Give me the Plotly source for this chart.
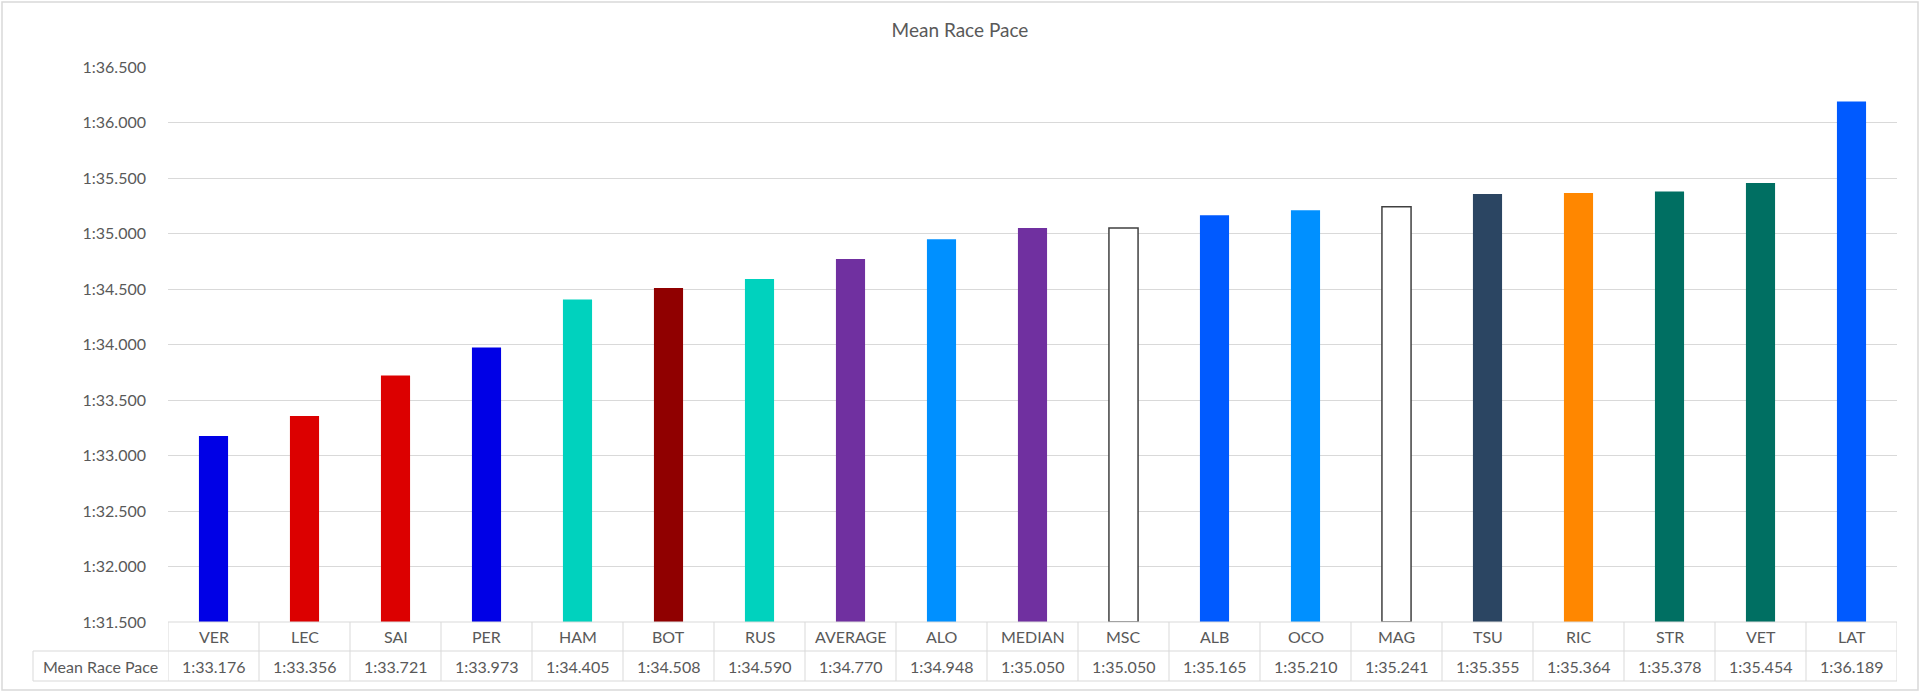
"""
Mean race pace bar chart with an Excel-style data table underneath
"""
import plotly.graph_objects as go

drivers = ['VER', 'LEC', 'SAI', 'PER', 'HAM', 'BOT', 'RUS', 'AVERAGE', 'ALO', 'MEDIAN',
           'MSC', 'ALB', 'OCO', 'MAG', 'TSU', 'RIC', 'STR', 'VET', 'LAT']
pace_labels = ['1:33.176', '1:33.356', '1:33.721', '1:33.973', '1:34.405', '1:34.508',
               '1:34.590', '1:34.770', '1:34.948', '1:35.050', '1:35.050', '1:35.165',
               '1:35.210', '1:35.241', '1:35.355', '1:35.364', '1:35.378', '1:35.454',
               '1:36.189']
bar_colors = ['#0000E6', '#DC0000', '#DC0000', '#0000E6', '#00D2BE', '#900000', '#00D2BE',
              '#7030A0', '#0090FF', '#7030A0', '#FFFFFF', '#005AFF', '#0090FF', '#FFFFFF',
              '#2B4562', '#FF8700', '#006F62', '#006F62', '#005AFF']
outlined = ['MSC', 'MAG']
tick_vals = [91.5, 92.0, 92.5, 93.0, 93.5, 94.0, 94.5, 95.0, 95.5, 96.0, 96.5]
tick_text = ['1:31.500', '1:32.000', '1:32.500', '1:33.000', '1:33.500', '1:34.000',
             '1:34.500', '1:35.000', '1:35.500', '1:36.000', '1:36.500']
AXIS_FLOOR = 91.5


def to_seconds(label):
    m, s = label.split(':')
    return int(m) * 60 + float(s)


pace_seconds = [to_seconds(p) for p in pace_labels]

W, H = 1920, 694
L, R, T, B = 168, 23, 67, 72
plot_w = W - L - R
plot_h = H - T - B
TEXT = '#595959'
GRID = '#D9D9D9'
FONT = 'Lato'


def py(px):
    # pixel row -> paper y
    return (H - B - px) / plot_h


def pxx(px):
    # pixel column -> paper x
    return (px - L) / plot_w


fig = go.Figure()

# bars start at the axis floor (Excel-style), so plot value - floor
fig.add_trace(go.Bar(
    x=drivers,
    y=[v - AXIS_FLOOR for v in pace_seconds],
    marker=dict(
        color=bar_colors,
        line=dict(color=['#404040' if d in outlined else 'rgba(0,0,0,0)' for d in drivers],
                  width=1.5)
    ),
    customdata=pace_labels,
    hovertemplate='%{x}: %{customdata}<extra></extra>'
))

# data table below the plot
row1_bot = py(651)
row2_bot = py(681)
row1_mid = py(636.5)
row2_mid = py(666)
left_edge = pxx(33)

shapes = []
n = len(drivers)
# horizontal borders
shapes.append(dict(type='line', xref='x', yref='paper', x0=-0.5, x1=n - 0.5,
                   y0=0, y1=0, line=dict(color=GRID, width=1)))
for yy in (row1_bot, row2_bot):
    shapes.append(dict(type='line', xref='paper', yref='paper', x0=left_edge, x1=1,
                       y0=yy, y1=yy, line=dict(color=GRID, width=1)))
# vertical borders
for i in range(n + 1):
    shapes.append(dict(type='line', xref='x', yref='paper', x0=i - 0.5, x1=i - 0.5,
                       y0=0, y1=row2_bot, line=dict(color=GRID, width=1)))
shapes.append(dict(type='line', xref='paper', yref='paper', x0=left_edge, x1=left_edge,
                   y0=row1_bot, y1=row2_bot, line=dict(color=GRID, width=1)))
# chart outer border
shapes.append(dict(type='rect', xref='paper', yref='paper',
                   x0=pxx(2), x1=pxx(1918), y0=py(690), y1=py(2),
                   line=dict(color=GRID, width=1.5), layer='below'))

annotations = []
for d, p in zip(drivers, pace_labels):
    annotations.append(dict(x=d, y=row1_mid, xref='x', yref='paper', text=d,
                            xanchor='center', yanchor='middle', showarrow=False,
                            font=dict(size=16, color=TEXT, family=FONT)))
    annotations.append(dict(x=d, y=row2_mid, xref='x', yref='paper', text=p,
                            xanchor='center', yanchor='middle', showarrow=False,
                            font=dict(size=16, color=TEXT, family=FONT)))
annotations.append(dict(x=pxx(100.5), y=row2_mid, xref='paper', yref='paper',
                        text='Mean Race Pace', xanchor='center', yanchor='middle',
                        showarrow=False, font=dict(size=16, color=TEXT, family=FONT)))

fig.update_layout(
    width=W, height=H,
    margin=dict(l=L, r=R, t=T, b=B),
    paper_bgcolor='white',
    plot_bgcolor='white',
    title=dict(text='Mean Race Pace', x=0.5, xanchor='center', y=1 - 30 / H, yanchor='middle',
               font=dict(size=19, color=TEXT, family=FONT)),
    font=dict(family=FONT, color=TEXT, size=16),
    showlegend=False,
    bargap=0.68,
    shapes=shapes,
    annotations=annotations,
)

fig.update_xaxes(showticklabels=False, showgrid=False, showline=False, ticks='',
                 range=[-0.5, n - 0.5], fixedrange=True)
fig.update_yaxes(range=[0, 5], tickvals=[v - AXIS_FLOOR for v in tick_vals], ticktext=tick_text,
                 showgrid=True, gridcolor=GRID, gridwidth=1, zeroline=False, showline=False,
                 ticks='', ticklabelstandoff=21, tickfont=dict(size=16, color=TEXT, family=FONT))

fig.write_html("out.html", config={'displayModeBar': False},
               post_script="document.body.style.margin='0';")
